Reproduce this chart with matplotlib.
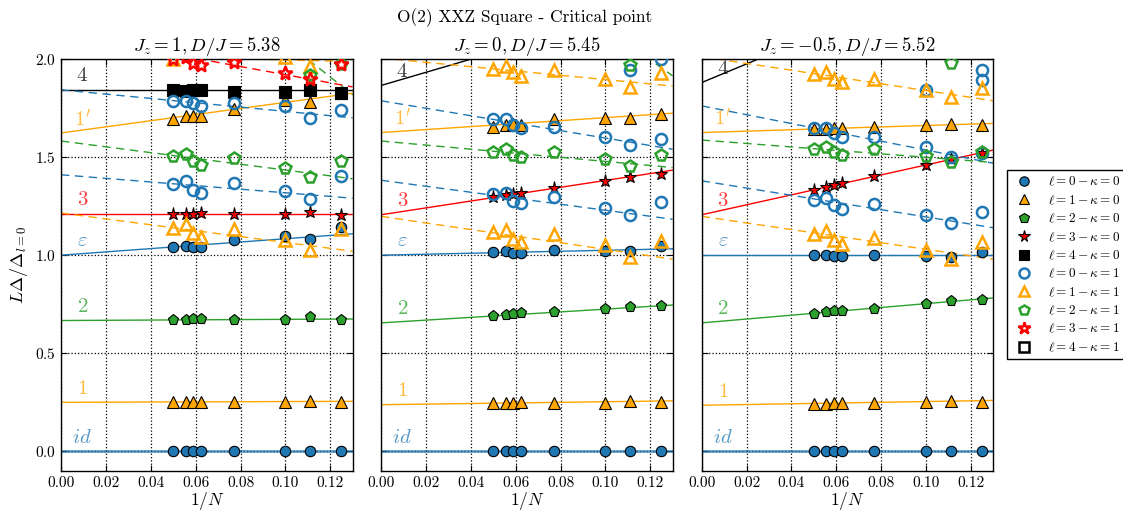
import numpy as np
import matplotlib
matplotlib.use("Agg")
import matplotlib.pyplot as plt
from matplotlib.lines import Line2D

plt.rcParams["font.family"] = "serif"
plt.rcParams["font.serif"] = ["cmr10", "DejaVu Serif"]
plt.rcParams["mathtext.fontset"] = "cm"
plt.rcParams["axes.unicode_minus"] = False
plt.rcParams["axes.formatter.use_mathtext"] = True

nan = np.nan

# system sizes, plotted as 1/N
sizes = np.array([20, 18, 17, 16, 13, 10, 9, 8])

titles = [r"$J_z = 1, D/J = 5.38$", r"$J_z = 0, D/J = 5.45$", r"$J_z = -0.5, D/J = 5.52$"]

# ---- panel 1: Jz = 1 ----
p1_l0k0 = [[0, 0, 0, 0, 0, 0, 0, 0],
           [1.041, 1.049, 1.044, 1.041, 1.075, 1.10, 1.085, 1.143]]
p1_l1k0 = [[0.252, 0.252, 0.252, 0.254, 0.252, 0.252, 0.258, 0.252],
           [1.693, 1.71, 1.71, 1.71, 1.747, 1.789, 1.78, 1.826]]
p1_l2k0 = [[0.670, 0.670, 0.673, 0.677, 0.670, 0.672, 0.684, 0.670]]
p1_l3k0 = [[1.21, 1.21, 1.212, 1.214, 1.21, 1.21, 1.218, 1.206]]
p1_l4k0 = [[1.84, 1.838, 1.84, 1.842, 1.834, 1.832, 1.84, 1.827]]
p1_l0k1 = [[1.365, 1.379, 1.334, 1.319, 1.370, 1.326, 1.288, 1.404],
           [1.787, 1.788, 1.775, 1.761, 1.778, 1.759, 1.70, 1.738]]
p1_l1k1 = [[1.138, 1.16, 1.113, 1.092, 1.131, 1.075, 1.024, 1.131],
           [2.0, nan, nan, nan, nan, 2.01, 1.965, nan]]
p1_l2k1 = [[1.505, 1.515, 1.48, 1.462, 1.496, 1.442, 1.399, 1.48],
           [nan, nan, nan, nan, nan, nan, 1.917, 1.976]]
p1_l3k1 = [[2.0, 2.01, 1.98, 1.97, 1.985, 1.93, 1.90, 1.975]]
p1_l4k1 = []
# fits: (series, intercept, slope, label)
p1_fits = [("l0k0", 0.0, 0.0, "$id$"), ("l1k0", 0.25, 0.04, "$1$"),
           ("l2k0", 0.667, 0.06, "$2$"), ("l0k0", 1.0, 0.84, r"$\varepsilon$"),
           ("l3k0", 1.21, 0.0, "$3$"), ("l1k0", 1.623, 1.56, "$1'$"),
           ("l4k0", 1.843, 0.0, "$4$"),
           ("l0k1", 1.41, -0.92, None), ("l0k1", 1.843, -1.1, None),
           ("l1k1", 1.215, -1.5, None), ("l1k1", 2.02, -0.25, None),
           ("l2k1", 1.582, -1.48, None), ("l2k1", 3.0, -9.1, None),
           ("l3k1", 2.128, -2.08, None)]

# ---- panel 2: Jz = 0 ----
p2_l0k0 = [[0, 0, 0, 0, 0, 0, 0, 0],
           [1.015, 1.02, 1.01, 1.01, 1.029, 1.02, 1.022, 1.045]]
p2_l1k0 = [[0.245, 0.245, 0.247, 0.25, 0.245, 0.247, 0.258, 0.25],
           [1.655, 1.664, 1.67, 1.664, 1.693, 1.70, 1.70, 1.72]]
p2_l2k0 = [[0.692, 0.696, 0.70, 0.706, 0.711, 0.726, 0.738, 0.74]]
p2_l3k0 = [[1.297, 1.305, 1.31, 1.319, 1.343, 1.379, 1.40, 1.416]]
p2_l4k0 = []
p2_l0k1 = [[1.31, 1.317, 1.276, 1.266, 1.297, 1.24, 1.203, 1.271],
           [1.693, 1.693, 1.664, 1.65, 1.655, 1.604, 1.56, 1.592],
           [nan, nan, nan, nan, nan, nan, 1.942, 2.0]]
p2_l1k1 = [[1.118, 1.126, 1.084, 1.067, 1.109, 1.05, 0.993, 1.07],
           [1.949, 1.962, 1.932, 1.915, 1.945, 1.90, 1.857, 1.927]]
p2_l2k1 = [[1.526, 1.541, 1.509, 1.498, 1.526, 1.488, 1.454, 1.509],
           [nan, nan, nan, nan, nan, nan, 1.968, nan]]
p2_l3k1 = []
p2_l4k1 = []
p2_fits = [("l0k0", 0.0, 0.0, "$id$"), ("l1k0", 0.238, 0.15, "$1$"),
           ("l2k0", 0.655, 0.70, "$2$"), ("l0k0", 1.0, 0.25, r"$\varepsilon$"),
           ("l3k0", 1.206, 1.75, "$3$"), ("l1k0", 1.625, 0.76, "$1'$"),
           ("l4k0", 1.865, 3.35, "$4$"),
           ("l0k1", 1.382, -1.53, None), ("l0k1", 1.787, -1.9, None),
           ("l1k1", 1.198, -1.68, None), ("l1k1", 2.005, -1.1, None),
           ("l2k1", 1.582, -1.04, None), ("l2k1", 2.98, -8.2, None)]

# ---- panel 3: Jz = -0.5 ----
p3_l0k0 = [[0, 0, 0, 0, 0, 0, 0, 0],
           [1.0, 1.0, 0.998, 0.997, 1.0, 0.997, 0.99, 1.015]]
p3_l1k0 = [[0.241, 0.241, 0.245, 0.248, 0.245, 0.25, 0.258, 0.253],
           [1.643, 1.643, 1.647, 1.647, 1.655, 1.664, 1.667, 1.664]]
p3_l2k0 = [[0.70, 0.709, 0.714, 0.718, 0.728, 0.752, 0.765, 0.774]]
p3_l3k0 = [[1.331, 1.348, 1.357, 1.369, 1.403, 1.459, 1.488, 1.519]]
p3_l4k0 = []
p3_l0k1 = [[1.283, 1.294, 1.254, 1.237, 1.263, 1.206, 1.164, 1.22],
           [1.647, 1.647, 1.621, 1.604, 1.60, 1.549, 1.498, 1.519],
           [nan, nan, nan, nan, nan, 1.84, nan, 1.942],
           [nan, nan, nan, nan, nan, nan, nan, 1.895]]
p3_l1k1 = [[1.109, 1.121, 1.075, 1.058, 1.089, 1.027, 0.981, 1.067],
           [1.923, 1.933, 1.898, 1.882, 1.898, 1.842, 1.805, 1.852]]
p3_l2k1 = [[1.541, 1.553, 1.524, 1.51, 1.541, 1.505, 1.473, 1.527],
           [nan, nan, nan, nan, nan, nan, 1.98, nan]]
p3_l3k1 = []
p3_l4k1 = []
p3_fits = [("l0k0", 0.0, 0.0, "$id$"), ("l1k0", 0.235, 0.19, "$1$"),
           ("l2k0", 0.655, 0.98, "$2$"), ("l0k0", 1.0, 0.0, r"$\varepsilon$"),
           ("l3k0", 1.206, 2.54, "$3$"), ("l1k0", 1.625, 0.36, "$1'$"),
           ("l4k0", 1.88, 4.75, "$4$"),
           ("l0k1", 1.379, -1.84, None), ("l0k1", 1.761, -2.25, None),
           ("l1k1", 1.198, -1.68, None), ("l1k1", 2.012, -1.73, None),
           ("l2k1", 1.587, -0.88, None)]

panels = [
    {"l0k0": p1_l0k0, "l1k0": p1_l1k0, "l2k0": p1_l2k0, "l3k0": p1_l3k0, "l4k0": p1_l4k0,
     "l0k1": p1_l0k1, "l1k1": p1_l1k1, "l2k1": p1_l2k1, "l3k1": p1_l3k1, "l4k1": p1_l4k1},
    {"l0k0": p2_l0k0, "l1k0": p2_l1k0, "l2k0": p2_l2k0, "l3k0": p2_l3k0, "l4k0": p2_l4k0,
     "l0k1": p2_l0k1, "l1k1": p2_l1k1, "l2k1": p2_l2k1, "l3k1": p2_l3k1, "l4k1": p2_l4k1},
    {"l0k0": p3_l0k0, "l1k0": p3_l1k0, "l2k0": p3_l2k0, "l3k0": p3_l3k0, "l4k0": p3_l4k0,
     "l0k1": p3_l0k1, "l1k1": p3_l1k1, "l2k1": p3_l2k1, "l3k1": p3_l3k1, "l4k1": p3_l4k1},
]
all_fits = [p1_fits, p2_fits, p3_fits]

colors = {0: "#1f77b4", 1: "#ffa500", 2: "#2ca02c", 3: "#ff0000", 4: "#000000"}
markers = {0: "o", 1: "^", 2: "p", 3: "*", 4: "s"}
msize = {0: 7.5, 1: 8, 2: 8, 3: 9.5, 4: 8}


def series_style(key, scale=1.0):
    ell = int(key[1])
    kappa = int(key[3])
    c = colors[ell]
    if kappa == 0:
        return dict(marker=markers[ell], ms=msize[ell] * scale, mfc=c, mec="k", mew=0.8,
                    linestyle="none")
    return dict(marker=markers[ell], ms=(msize[ell] + 0.5) * scale, mfc="none", mec=c,
                mew=1.8, linestyle="none")


order = ["l0k0", "l1k0", "l2k0", "l3k0", "l4k0", "l0k1", "l1k1", "l2k1", "l3k1", "l4k1"]

fig = plt.figure(figsize=(11.23, 5.11), dpi=100)
W, H = 1123.0, 511.0
lefts = [61, 381, 701.7]
axes = []
for i in range(3):
    ax = fig.add_axes([lefts[i] / W, 40 / H, 291.7 / W, 412 / H])
    axes.append(ax)

x_line = np.array([0.0, 0.13])
inv_n = 1.0 / sizes

for i, ax in enumerate(axes):
    data = panels[i]
    # fit lines
    for key, a, b, lab in all_fits[i]:
        ell = int(key[1])
        kappa = int(key[3])
        c = colors[ell]
        if kappa == 0:
            lw = 2.0 if (a == 0 and b == 0) else 1.0
            al = 0.7 if (a == 0 and b == 0) else 1.0
            ax.plot(x_line, a + b * x_line, "-", color=c, lw=lw, alpha=al, zorder=2)
        else:
            ax.plot(x_line, a + b * x_line, "--", color=c, lw=1.0, dashes=(6, 4), zorder=2)
        if lab is not None:
            ax.text(0.0095, a + 0.07, lab, color=c, alpha=0.75, fontsize=15,
                    ha="center", va="center", zorder=3)
    # data points
    for key in order:
        for level in data[key]:
            ax.plot(inv_n, level, zorder=4, **series_style(key))

    ax.set_xlim(0, 0.13)
    ax.set_ylim(-0.1, 2.0)
    ax.set_xticks([0.0, 0.02, 0.04, 0.06, 0.08, 0.10, 0.12])
    ax.xaxis.set_major_formatter(matplotlib.ticker.FormatStrFormatter("%.2f"))
    ax.set_yticks([0.0, 0.5, 1.0, 1.5, 2.0])
    ax.grid(True, color="k", linestyle=":", linewidth=0.9)
    ax.tick_params(direction="in", top=True, right=True, labelsize=11, length=4)
    ax.set_xlabel(r"$1/N$", fontsize=12.5, labelpad=0)
    ax.set_title(titles[i], fontsize=13.5, pad=6)
    for sp in ax.spines.values():
        sp.set_linewidth(1.0)
    if i == 0:
        ax.set_ylabel(r"$L\Delta/\Delta_{l=0}$", fontsize=13)
    else:
        ax.set_yticklabels([])

handles = []
for key in order:
    handles.append(Line2D([], [], **series_style(key, 0.9)))
labels = [r"$\ell = %s - \kappa = %s$" % (k[1], k[3]) for k in order]
leg = fig.legend(handles, labels, loc="upper left", bbox_to_anchor=(1007 / W, 1 - 170 / H),
                 fontsize=9.5, numpoints=1, labelspacing=0.38, borderaxespad=0,
                 fancybox=False, edgecolor="k", framealpha=1, handletextpad=0.9,
                 handlelength=1.8)
leg.get_frame().set_linewidth(1.0)

fig.suptitle("O(2) XXZ Square - Critical point", x=525 / W, y=1 - 8 / H, va="top", fontsize=12.5)

fig.savefig("out.png", dpi=100)
